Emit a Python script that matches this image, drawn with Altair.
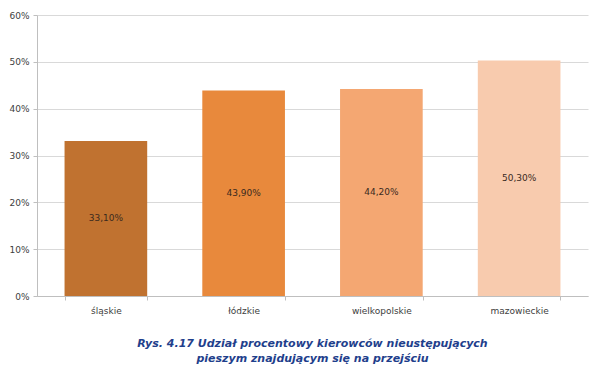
import altair as alt
import pandas as pd

regions = ["śląskie", "łódzkie", "wielkopolskie", "mazowieckie"]
values = [33.1, 43.9, 44.2, 50.3]
colors = ["#C07230", "#E8893C", "#F4A772", "#F8CBAE"]
labels = [f"{v:.2f}%".replace(".", ",") for v in values]
y_ticks = [0, 10, 20, 30, 40, 50, 60]

df = pd.DataFrame({"region": regions, "value": values, "label": labels,
                   "half": [v / 2 for v in values], "color": colors})

FONT = "DejaVu Sans"

x = alt.X("region:N", sort=regions, title=None,
          scale=alt.Scale(paddingInner=0.4, paddingOuter=0.2),
          axis=alt.Axis(labelAngle=0, labelFont=FONT, labelFontSize=9, labelColor="#404040",
                        domainColor="#BFBFBF", tickColor="#BFBFBF", tickSize=4,
                        tickBand="extent", labelPadding=6, grid=False))

bars = alt.Chart(df).mark_bar().encode(
    x=x,
    y=alt.Y("value:Q", title=None,
            scale=alt.Scale(domain=[0, 60], nice=False),
            axis=alt.Axis(values=y_ticks, labelExpr="datum.value + '%'",
                          labelFont=FONT, labelFontSize=9, labelColor="#404040",
                          domainColor="#BFBFBF", tickColor="#BFBFBF", tickSize=4,
                          labelPadding=4, gridColor="#D9D9D9", gridWidth=1)),
    color=alt.Color("color:N", scale=None),
)

text = alt.Chart(df).mark_text(font=FONT, fontSize=9, color="#3A2A1E").encode(
    x=alt.X("region:N", sort=regions),
    y=alt.Y("half:Q"),
    text="label:N",
)

chart = (bars + text).properties(
    width=551,
    height=281,
    background="white",
    autosize=alt.AutoSizeParams(type="none"),
    padding={"left": 29, "top": 7, "right": 4, "bottom": 69},
    title=alt.Title(
        text=["Rys. 4.17 Udział procentowy kierowców nieustępujących",
              "pieszym znajdującym się na przejściu"],
        orient="bottom", anchor="middle", font=FONT, fontSize=11,
        fontStyle="italic", fontWeight="bold", color="#1F3F8C",
        offset=23, lineHeight=15),
).configure_view(strokeWidth=0, stroke="transparent")

chart.save("out.html", embed_options={"renderer": "svg", "actions": False})
